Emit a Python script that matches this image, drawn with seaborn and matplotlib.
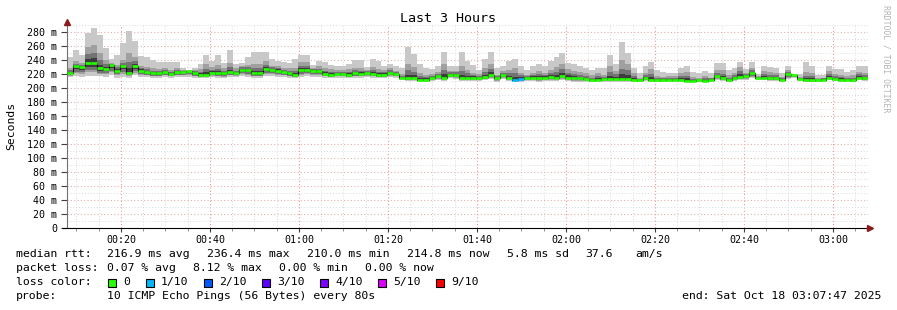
import numpy as np
import matplotlib
matplotlib.use("Agg")
import matplotlib.pyplot as plt
import seaborn as sns
from matplotlib.patches import Rectangle
from matplotlib.ticker import FixedLocator, MultipleLocator

# ---------------- data ----------------
start_min = 7 + 53 / 60.0      # 00:07:53
step_min = 80 / 60.0           # one ping round every 80 s

median = [222, 231, 230, 236, 236, 228, 227, 233, 225, 231,
          222, 231, 225, 223, 221, 221, 223, 220, 223, 223,
          225, 221, 219, 219, 222, 221, 221, 223, 221, 226,
          226, 221, 221, 227, 226, 225, 223, 221, 219, 226,
          226, 225, 224, 220, 219, 220, 220, 219, 221, 220,
          222, 220, 219, 219, 222, 220, 215, 214, 215, 212,
          212, 215, 217, 215, 219, 219, 215, 215, 215, 215,
          216, 219, 214, 219, 215, 212, 213, 215, 215, 214,
          215, 216, 215, 217, 215, 214, 214, 213, 211, 212,
          213, 213, 213, 213, 213, 212, 211, 214, 212, 211,
          211, 212, 212, 212, 210.5, 210.5, 211, 210.5, 212, 217,
          214, 211, 214, 216, 217, 221, 215, 215, 214, 214,
          212, 219.5, 218.5, 213, 211, 211, 211, 212, 215, 213,
          212, 212, 211, 215, 214]

rtt_max = [245, 254, 247, 279, 286, 276, 257, 241, 247, 264,
           281, 267, 246, 244, 240, 237, 237, 237, 237, 229,
           226, 229, 235, 247, 239, 247, 236, 254, 235, 236,
           245, 251, 251, 251, 241, 238, 237, 236, 241, 247,
           247, 233, 238, 237, 233, 231, 231, 234, 240, 240,
           230, 241, 238, 231, 234, 231, 228, 259, 249, 234,
           228, 227, 231, 251, 231, 231, 251, 239, 233, 226,
           241, 251, 228, 231, 239, 241, 231, 226, 231, 234,
           231, 239, 245, 250, 236, 234, 231, 229, 226, 229,
           228, 247, 235, 266, 250, 229, 222, 231, 237, 226,
           223, 222, 222, 229, 231, 223, 221, 224, 221, 236,
           236, 226, 229, 237, 227, 237, 220, 231, 230, 229,
           221, 231, 220, 220, 237, 231, 219, 219, 231, 227,
           227, 223, 226, 231, 231]

rtt_min = [216, 217, 216, 217, 217, 217, 216, 218, 215, 216,
           215, 218, 216, 216, 215, 215, 216, 215, 216, 216,
           216, 215, 214, 215, 216, 215, 214, 216, 216, 217,
           216, 215, 215, 217, 217, 216, 216, 215, 214, 216,
           217, 216, 216, 215, 214, 215, 215, 214, 215, 215,
           216, 215, 214, 214, 216, 215, 211, 210, 210, 209,
           209, 210, 212, 210, 214, 213, 210, 210, 210, 210,
           211, 213, 209, 213, 210, 209, 209, 210, 210, 209,
           210, 210, 210, 211, 210, 209, 209, 209, 208, 209,
           209, 209, 209, 209, 209, 209, 208, 210, 209, 208,
           208, 209, 209, 209, 208, 208, 208, 208, 209, 211,
           210, 208, 210, 211, 212, 214, 211, 211, 210, 210,
           209, 213, 214, 210, 208, 208, 208, 209, 211, 210,
           209, 209, 208, 211, 210]

rtt_p75 = [228, 238, 236, 258, 262, 250, 240, 236, 233, 240,
           250, 245, 232, 230, 228, 227, 228, 226, 229, 226,
           224, 226, 227, 234, 230, 233, 228, 236, 228, 232,
           233, 234, 235, 238, 232, 231, 229, 228, 229, 237,
           237, 229, 231, 229, 227, 226, 226, 227, 229, 229,
           226, 230, 227, 226, 228, 225, 220, 235, 230, 222,
           219, 220, 223, 235, 225, 225, 232, 226, 222, 220,
           228, 234, 219, 224, 226, 228, 222, 219, 222, 225,
           222, 226, 230, 235, 227, 224, 223, 221, 218, 221,
           219, 232, 225, 240, 235, 221, 215, 222, 227, 217,
           216, 217, 217, 222, 223, 216, 215, 217, 215, 226,
           226, 218, 222, 230, 222, 229, 217, 224, 223, 222,
           216, 226, 219, 216, 223, 222, 214, 215, 224, 220,
           219, 217, 218, 223, 222]

loss_bin = [75, 76]      # bins (0-based) with packet loss
loss_level = [1, 1]      # index into loss_colors

loss_colors = ["#26ff00", "#00b8ff", "#0059ff", "#5e00ff", "#7e00ff", "#dd00ff", "#ff0000"]
loss_labels = ["0", "1/10", "2/10", "3/10", "4/10", "5/10", "9/10"]

xtick_minutes = [20, 40, 60, 80, 100, 120, 140, 160, 180]
xtick_labels = ["00:20", "00:40", "01:00", "01:20", "01:40", "02:00", "02:20", "02:40", "03:00"]
ytick_vals = [0, 20, 40, 60, 80, 100, 120, 140, 160, 180, 200, 220, 240, 260, 280]
ytick_labels = ["0", "20 m", "40 m", "60 m", "80 m", "100 m", "120 m", "140 m", "160 m",
                "180 m", "200 m", "220 m", "240 m", "260 m", "280 m"]

legend_rtt = [("median rtt:", 16), ("216.9 ms avg", 107), ("236.4 ms max", 207),
              ("210.0 ms min", 307), ("214.8 ms now", 407), ("5.8 ms sd", 507),
              ("37.6", 585), ("am/s", 635)]
legend_loss = [("packet loss:", 16), ("0.07 % avg", 107), ("8.12 % max", 193),
               ("0.00 % min", 279), ("0.00 % now", 365)]
legend_box_x = [108, 146, 204, 262, 320, 378, 436]

# ---------------- style ----------------
W, H = 897, 310
sns.set_theme(style="white")
plt.rcParams["font.family"] = ["DejaVu Sans Mono", "DejaVu Sans"]
plt.rcParams["axes.linewidth"] = 0.8

fig = plt.figure(figsize=(W / 100, H / 100), dpi=100)
fig.patch.set_facecolor("white")

def fx(x):
    return x / W

def fy(y):
    return 1 - y / H

ax_l, ax_r, ax_b = 67, 868, 228
ymax = 290
ax_t = ax_b - ymax * 0.7
ax = fig.add_axes([fx(ax_l), fy(ax_b), (ax_r - ax_l) / W, (ax_b - ax_t) / H])
ax.set_facecolor("white")

med = np.asarray(median, float)
lo = np.asarray(rtt_min, float)
hi = np.asarray(rtt_max, float)
p75 = np.asarray(rtt_p75, float)
N = len(med)
edges = start_min + step_min * np.arange(N + 1)

def ext(a):
    return np.append(a, a[-1])

# smoke layers, light outside -> dark inside
layers = [
    (lo, hi, "#c8c8c8"),
    (lo + 0.3 * (med - lo), p75, "#a0a0a0"),
    (med - 0.55 * (med - lo), med + 0.55 * (p75 - med), "#737373"),
    (med - 0.3 * (med - lo), med + 0.25 * (p75 - med), "#3c3c3c"),
]
for a, b, c in layers:
    ax.fill_between(edges, ext(a), ext(b), step="post", color=c, linewidth=0, zorder=2)

# median: dark outline line + coloured segments
sns.lineplot(x=edges, y=ext(med), drawstyle="steps-post", color="#101010",
             linewidth=0.8, ax=ax, zorder=3)
seg_colors = [loss_colors[0]] * N
for b, lv in zip(loss_bin, loss_level):
    seg_colors[b] = loss_colors[lv]
ax.hlines(med, edges[:-1], edges[1:], colors=seg_colors, linewidth=1.9, zorder=4)

ax.set_xlim(start_min, start_min + step_min * N)
ax.set_ylim(0, ymax)

ax.xaxis.set_major_locator(FixedLocator(xtick_minutes))
ax.set_xticklabels(xtick_labels)
ax.xaxis.set_minor_locator(MultipleLocator(5))
ax.yaxis.set_major_locator(FixedLocator(ytick_vals))
ax.set_yticklabels(ytick_labels)
ax.yaxis.set_minor_locator(MultipleLocator(10))

ax.set_axisbelow(True)
ax.grid(which="minor", color="#dadada", linestyle=(0, (1, 2)), linewidth=0.7)
ax.grid(which="major", axis="x", color="#f09494", linestyle=(0, (1, 2)), linewidth=0.8)
ax.grid(which="major", axis="y", color="#e6b0b0", linestyle=(0, (1, 2)), linewidth=0.8)

for s in ["top", "right"]:
    ax.spines[s].set_visible(False)
ax.spines["left"].set_color("#707070")
ax.spines["bottom"].set_color("#000000")

ax.tick_params(axis="y", which="major", direction="out", length=4, width=0.8,
               color="#404040", pad=3, labelsize=7.2, labelcolor="#000000", left=True)
ax.tick_params(axis="y", which="minor", length=0)
ax.tick_params(axis="x", which="major", direction="out", length=3, width=0.8,
               color="#404040", pad=2, labelsize=7.2, labelcolor="#000000", bottom=True)
ax.tick_params(axis="x", which="minor", direction="out", length=2, width=0.6,
               color="#808080", bottom=True)
ax.set_xlabel("")
ax.set_ylabel("")

# axis arrows
fig.add_artist(plt.Line2D([fx(62), fx(ax_l)], [fy(ax_b), fy(ax_b)], color="#000000", lw=0.8))
fig.add_artist(plt.Line2D([fx(ax_l)], [fy(22)], marker="^", markersize=4.5,
                          color="#8b1a1a", linestyle="none"))
fig.add_artist(plt.Line2D([fx(870)], [fy(ax_b)], marker=">", markersize=4.5,
                          color="#8b1a1a", linestyle="none"))

# titles
fig.text(fx(448), fy(19), "Last 3 Hours", ha="center", va="center", fontsize=9.6, color="#000000")
fig.text(fx(11), fy(126), "Seconds", ha="center", va="center", rotation=90, fontsize=8.2,
         color="#000000")
fig.text(fx(886), fy(59), "RRDTOOL / TOBI OETIKER", ha="center", va="center", rotation=270,
         fontsize=5.9, color="#b4b4b4")

# legend
LFS = 8.25
for txt, x in legend_rtt:
    fig.text(fx(x), fy(254), txt, ha="left", va="center", fontsize=LFS, color="#000000")
for txt, x in legend_loss:
    fig.text(fx(x), fy(268), txt, ha="left", va="center", fontsize=LFS, color="#000000")
fig.text(fx(16), fy(282), "loss color:", ha="left", va="center", fontsize=LFS, color="#000000")
for bx, col, lab in zip(legend_box_x, loss_colors, loss_labels):
    fig.add_artist(Rectangle((fx(bx), fy(286.5)), 8 / W, 8 / H, transform=fig.transFigure,
                             facecolor=col, edgecolor="#000000", linewidth=0.8))
    fig.text(fx(bx + 15), fy(282), lab, ha="left", va="center", fontsize=LFS, color="#000000")
fig.text(fx(16), fy(296), "probe:", ha="left", va="center", fontsize=LFS, color="#000000")
fig.text(fx(107), fy(296), "10 ICMP Echo Pings (56 Bytes) every 80s", ha="left", va="center",
         fontsize=LFS, color="#000000")
fig.text(fx(881), fy(296), "end: Sat Oct 18 03:07:47 2025", ha="right", va="center",
         fontsize=LFS, color="#000000")

fig.savefig("out.png", dpi=100, facecolor="white")
